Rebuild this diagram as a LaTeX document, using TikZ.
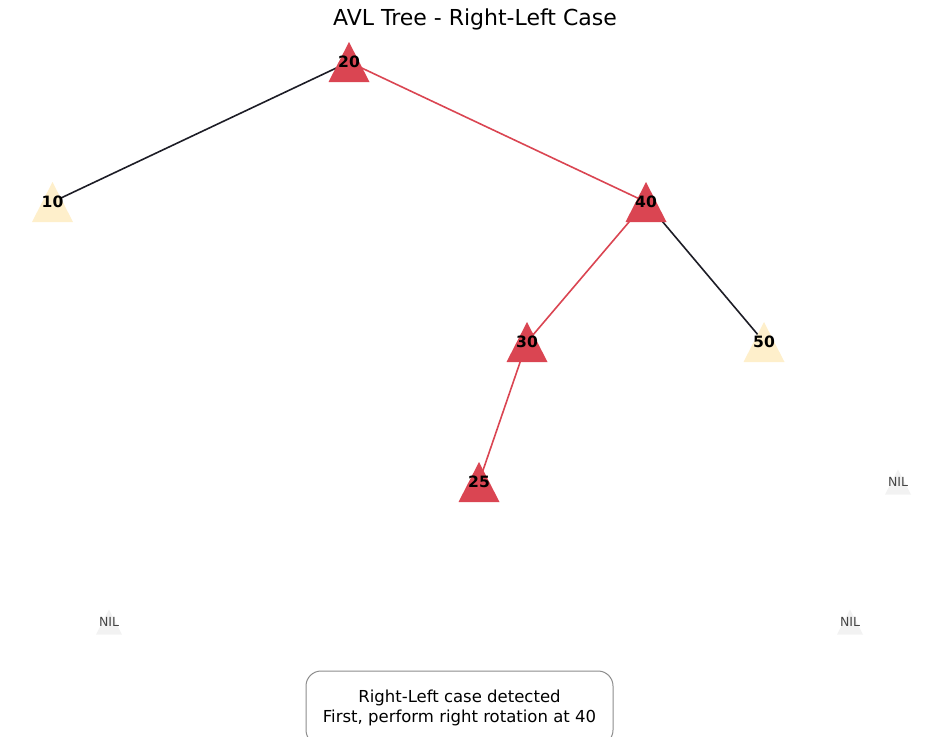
\documentclass[tikz,border=0pt]{standalone}
\usepackage{fontspec}
\setmainfont{DejaVu Sans}
\usetikzlibrary{backgrounds}
\definecolor{redn}{HTML}{DA4552}
\definecolor{yeln}{HTML}{FEEFCB}
\definecolor{niln}{HTML}{F2F2F2}
\definecolor{edk}{HTML}{1D1D26}
\definecolor{niltext}{HTML}{444444}
\tikzset{
  tri/.style={minimum width=41pt, minimum height=40pt, inner sep=0pt,
    font=\fontsize{15.6}{18}\selectfont\bfseries,
    path picture={\fill[#1] (path picture bounding box.north) -- (path picture bounding box.south west) -- (path picture bounding box.south east) -- cycle;}},
  niltri/.style={minimum width=26pt, minimum height=25pt, inner sep=0pt,
    font=\fontsize{12.5}{15}\selectfont, text=niltext,
    path picture={\fill[niln] (path picture bounding box.north) -- (path picture bounding box.south west) -- (path picture bounding box.south east) -- cycle;}},
  edgeblack/.style={draw=edk, line width=1.6pt},
  edgered/.style={draw=redn, line width=1.6pt},
}
\begin{document}
\begin{tikzpicture}[x=1pt,y=-1pt]
\useasboundingbox (0,0) rectangle (950,736);
\node (title) at (475,19) {\fontsize{22}{26}\selectfont AVL Tree - Right-Left Case};
\node[tri=redn] (n20) at (349,62) {20};
\node[tri=yeln] (n10) at (52.5,202) {10};
\node[tri=redn] (n40) at (646,202) {40};
\node[tri=redn] (n30) at (527,342) {30};
\node[tri=yeln] (n50) at (764,342) {50};
\node[tri=redn] (n25) at (479,482) {25};
\node[niltri] (nil1) at (898,482) {NIL};
\node[niltri] (nil2) at (109,622) {NIL};
\node[niltri] (nil3) at (850,622) {NIL};
\begin{scope}[on background layer]
\draw[edgeblack] (n20.center) -- (n10.center);
\draw[edgered] (n20.center) -- (n40.center);
\draw[edgered] (n40.center) -- (n30.center);
\draw[edgeblack] (n40.center) -- (n50.center);
\draw[edgered] (n30.center) -- (n25.center);
\end{scope}
\node[draw=gray!90, line width=1pt, rounded corners=15pt, minimum width=307pt, minimum height=74pt, align=center,
  font=\fontsize{16.5}{20}\selectfont] (msg) at (459.5,708) {Right-Left case detected\\First, perform right rotation at 40};
\end{tikzpicture}
\end{document}
